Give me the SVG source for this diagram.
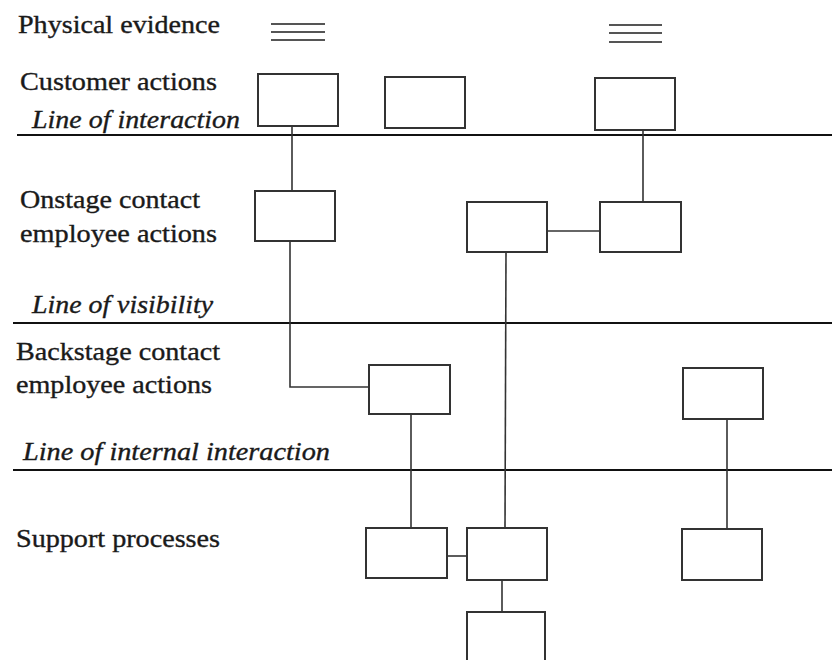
<svg xmlns="http://www.w3.org/2000/svg" width="832" height="660" viewBox="0 0 832 660">
<style>
.lbl{font-family:"Liberation Serif","Times New Roman",serif;font-size:25px;fill:#1a1a1a;stroke:#1a1a1a;stroke-width:0.35}
.it{font-style:italic}
.sep{stroke:#111;stroke-width:2.2;fill:none}
.box{fill:#fff;stroke:#333;stroke-width:2}
.con{stroke:#333;stroke-width:1.6;fill:none}
.ev{stroke:#555;stroke-width:2}
</style>
<rect width="832" height="660" fill="#fff"/>
<g id="labels">
<text class="lbl" x="18" y="33" textLength="202" lengthAdjust="spacingAndGlyphs">Physical evidence</text>
<text class="lbl" x="20" y="90" textLength="197" lengthAdjust="spacingAndGlyphs">Customer actions</text>
<text class="lbl it" x="32" y="128" textLength="208" lengthAdjust="spacingAndGlyphs">Line of interaction</text>
<text class="lbl" x="20" y="208" textLength="180" lengthAdjust="spacingAndGlyphs">Onstage contact</text>
<text class="lbl" x="20" y="242" textLength="197" lengthAdjust="spacingAndGlyphs">employee actions</text>
<text class="lbl it" x="32" y="313" textLength="181" lengthAdjust="spacingAndGlyphs">Line of visibility</text>
<text class="lbl" x="16" y="360" textLength="204" lengthAdjust="spacingAndGlyphs">Backstage contact</text>
<text class="lbl" x="16" y="393" textLength="196" lengthAdjust="spacingAndGlyphs">employee actions</text>
<text class="lbl it" x="23" y="460" textLength="307" lengthAdjust="spacingAndGlyphs">Line of internal interaction</text>
<text class="lbl" x="16" y="547" textLength="204" lengthAdjust="spacingAndGlyphs">Support processes</text>
</g>
<g id="separators">
<line class="sep" x1="17" y1="135" x2="832" y2="135"/>
<line class="sep" x1="13" y1="323" x2="832" y2="323"/>
<line class="sep" x1="13" y1="470" x2="832" y2="470"/>
</g>
<g id="evidence1">
<line class="ev" x1="271" y1="24" x2="325" y2="24"/>
<line class="ev" x1="271" y1="32" x2="325" y2="32"/>
<line class="ev" x1="271" y1="40" x2="325" y2="40"/>
</g>
<g id="evidence2">
<line class="ev" x1="609" y1="25" x2="662" y2="25"/>
<line class="ev" x1="609" y1="33" x2="662" y2="33"/>
<line class="ev" x1="609" y1="42" x2="662" y2="42"/>
</g>
<g id="connectors">
<line class="con" x1="292" y1="126" x2="292" y2="191"/>
<polyline class="con" points="290,241 290,387 369,387"/>
<line class="con" x1="643" y1="130" x2="643" y2="202"/>
<line class="con" x1="547" y1="231" x2="600" y2="231"/>
<line class="con" x1="506" y1="252" x2="505" y2="528"/>
<line class="con" x1="411" y1="414" x2="411" y2="528"/>
<line class="con" x1="447" y1="556" x2="467" y2="556"/>
<line class="con" x1="502" y1="580" x2="502" y2="612"/>
<line class="con" x1="727" y1="419" x2="727" y2="529"/>
</g>
<g id="n1"><rect class="box" x="258" y="74" width="80" height="52"/></g>
<g id="n2"><rect class="box" x="385" y="77" width="80" height="51"/></g>
<g id="n3"><rect class="box" x="595" y="78" width="80" height="52"/></g>
<g id="n4"><rect class="box" x="255" y="191" width="80" height="50"/></g>
<g id="n5"><rect class="box" x="467" y="202" width="80" height="50"/></g>
<g id="n6"><rect class="box" x="600" y="202" width="81" height="50"/></g>
<g id="n7"><rect class="box" x="369" y="365" width="81" height="49"/></g>
<g id="n8"><rect class="box" x="683" y="368" width="80" height="51"/></g>
<g id="n9"><rect class="box" x="366" y="528" width="81" height="50"/></g>
<g id="n10"><rect class="box" x="467" y="528" width="80" height="52"/></g>
<g id="n11"><rect class="box" x="682" y="529" width="80" height="51"/></g>
<g id="n12"><rect class="box" x="467" y="612" width="78" height="60"/></g>
</svg>
